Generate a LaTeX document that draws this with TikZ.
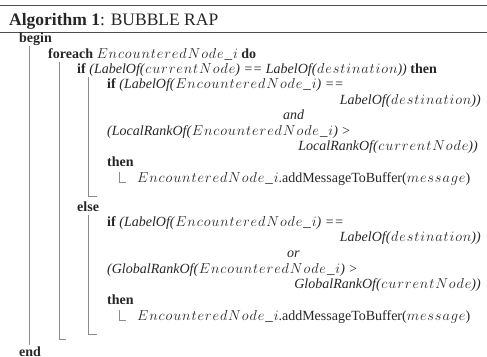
\documentclass[tikz,border=0pt]{standalone}
\usepackage[no-math]{fontspec}
\setmainfont{Liberation Serif}
\makeatletter
\newcommand\mv[1]{\mbox{\fontsize{15}{17}\selectfont$\@tfor\mv@t:=#1\do{\mv@t\kern0.9pt}\unkern$}}
\makeatother
\begin{document}
\begin{tikzpicture}[x=1pt,y=-1pt,
  txt/.style={inner sep=0pt,anchor=base west,font=\fontsize{14}{16}\selectfont,text=black!85},
  rtxt/.style={txt,anchor=base east},
  rulebar/.style={line width=1.6pt,draw=black!70},
  blockbar/.style={line width=0.9pt,draw=black!45}]
\useasboundingbox (0,0) rectangle (487,356);
\draw[rulebar] (0,5.5) -- (487,5.5);
\draw[rulebar] (0,32.5) -- (487,32.5);
\node[txt,font=\fontsize{17.5}{20}\selectfont] (title) at (9,25) {\textbf{Algorithm 1}: BUBBLE RAP};
\node[txt] (begin) at (19,42) {\textbf{begin}};
\node[txt] (foreach) at (48,58) {\textbf{foreach} \mv{EncounteredNode\_i} \textbf{do}};
\node[txt] (if1) at (77,73) {\textbf{if} \textit{(LabelOf(}\mv{currentNode}\textit{) == LabelOf(}\mv{destination}\textit{))} \textbf{then}};
\node[txt] (if2) at (107,88) {\textbf{if} \textit{(LabelOf(}\mv{EncounteredNode\_i}\textit{) ==}};
\node[rtxt] (c1) at (481,104) {\textit{LabelOf(}\mv{destination}\textit{))}};
\node[txt] (and) at (283,119) {\textit{and}};
\node[txt] (c2) at (107,135) {\textit{(LocalRankOf(}\mv{EncounteredNode\_i}\textit{) >}};
\node[rtxt] (c3) at (478,150) {\textit{LocalRankOf(}\mv{currentNode}\textit{))}};
\node[txt] (then1) at (107,166) {\textbf{then}};
\node[txt] (act1) at (137,182) {\mv{EncounteredNode\_i}.addMessageToBuffer(\mv{message})};
\node[txt] (else) at (77,211) {\textbf{else}};
\node[txt] (if3) at (107,226) {\textbf{if} \textit{(LabelOf(}\mv{EncounteredNode\_i}\textit{) ==}};
\node[rtxt] (d1) at (481,241) {\textit{LabelOf(}\mv{destination}\textit{))}};
\node[txt] (or) at (287,257) {\textit{or}};
\node[txt] (d2) at (107,273) {\textit{(GlobalRankOf(}\mv{EncounteredNode\_i}\textit{) >}};
\node[rtxt] (d3) at (481,288) {\textit{GlobalRankOf(}\mv{currentNode}\textit{))}};
\node[txt] (then2) at (107,304) {\textbf{then}};
\node[txt] (act2) at (137,320) {\mv{EncounteredNode\_i}.addMessageToBuffer(\mv{message})};
\node[txt] (end) at (19,356) {\textbf{end}};
% block bars
\draw[blockbar] (29,46) -- (29,345);
\draw[blockbar] (59,62) -- (59,339) -- (66,339);
\draw[blockbar] (88,77) -- (88,196) -- (97,196);
\draw[blockbar] (88,215) -- (88,334) -- (97,334);
\draw[blockbar] (119,172) -- (119,182) -- (126,182);
\draw[blockbar] (119,310) -- (119,320) -- (126,320);
\end{tikzpicture}
\end{document}
